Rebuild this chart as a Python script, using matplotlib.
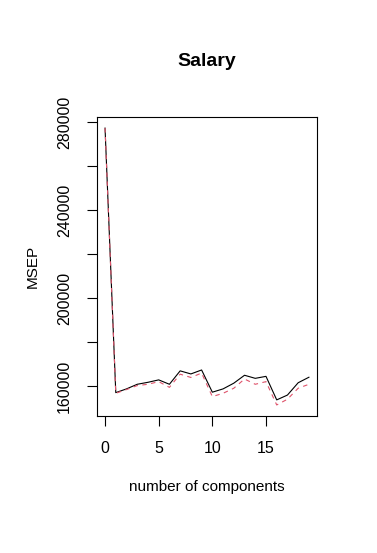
import numpy as np
import matplotlib.pyplot as plt

plt.rcParams['font.family'] = ['Liberation Sans', 'DejaVu Sans']

ncomp = np.arange(20)
cv = [277400, 157100, 158800, 160900, 161800, 162900, 160900, 167000, 165600, 167400,
      157300, 158800, 161400, 165000, 163600, 164500, 153800, 156000, 161600, 164100]
adjcv = [277400, 156800, 158500, 160300, 160900, 162100, 159500, 165500, 164000, 166000,
         155300, 156800, 159100, 163300, 160900, 162100, 151500, 154100, 159100, 160900]

fig = plt.figure(figsize=(3.77, 5.53), dpi=100)
ax = fig.add_axes([0.257, 0.2477, 0.584, 0.5407])

ax.plot(ncomp, cv, color="black", lw=0.8)
ax.plot(ncomp, adjcv, color="#DF536B", lw=0.8, linestyle=(0, (4, 4)))

lo = min(min(cv), min(adjcv))
hi = max(max(cv), max(adjcv))
pad = (hi - lo) * 0.04
ax.set_ylim(lo - pad, hi + pad)
ax.set_xlim(-0.76, 19.76)

ax.set_xticks([0, 5, 10, 15])
yt = np.arange(160000, 280001, 20000)
ax.set_yticks(yt)
ax.set_yticklabels([str(v) if (v - 160000) % 40000 == 0 else "" for v in yt],
                   rotation=90, va="center")
ax.tick_params(labelsize=11.5, length=7, width=0.8)
ax.tick_params(axis="x", pad=11)
ax.tick_params(axis="y", pad=11)
for s in ax.spines.values():
    s.set_linewidth(0.8)

ax.set_title("Salary", fontsize=14, fontweight="bold", pad=37)
ax.set_xlabel("number of components", fontsize=11, labelpad=17)
ax.set_ylabel("MSEP", fontsize=11, labelpad=12)

fig.savefig("out.png", dpi=100)
